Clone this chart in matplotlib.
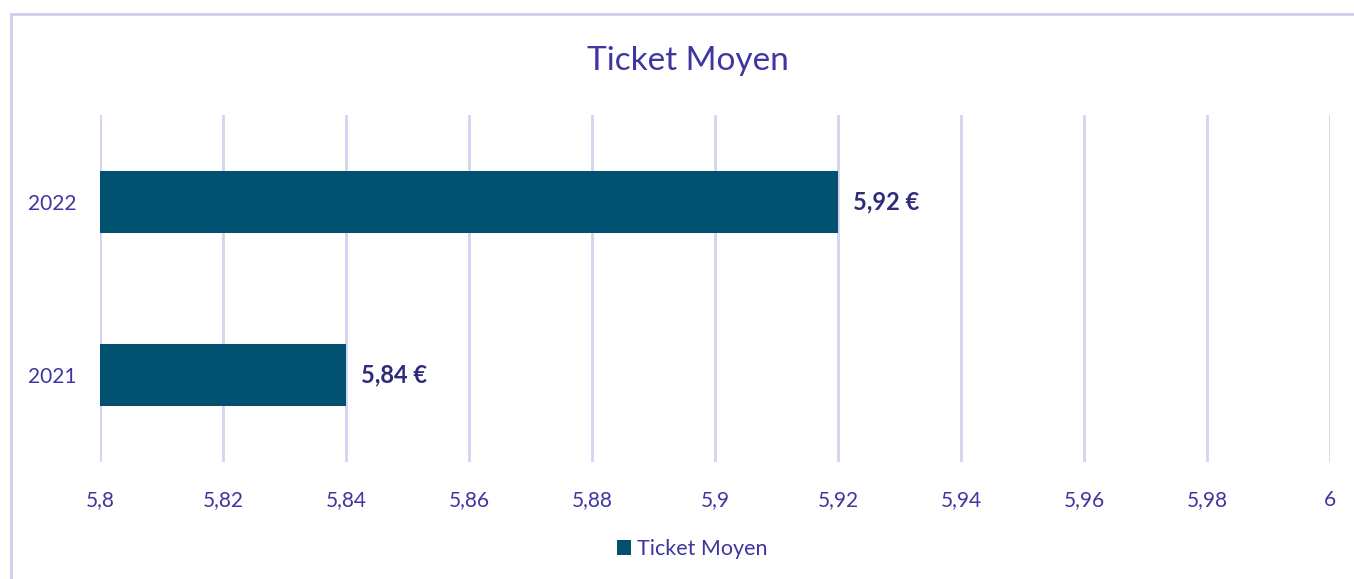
import matplotlib.pyplot as plt
from matplotlib.patches import Rectangle

years = ['2021', '2022']
ticket = [5.84, 5.92]
labels = ['5,84 €', '5,92 €']
xticks = [5.8, 5.82, 5.84, 5.86, 5.88, 5.9, 5.92, 5.94, 5.96, 5.98, 6.0]
xticklabels = ['5,8', '5,82', '5,84', '5,86', '5,88', '5,9', '5,92', '5,94', '5,96', '5,98', '6']

txt = '#3f36a0'
lbl = '#2f2a7a'
bar_col = '#00506f'
grid_col = '#d6d2f0'

plt.rcParams['font.family'] = ['Lato', 'DejaVu Sans']

fig = plt.figure(figsize=(13.54, 5.79), dpi=100)
W, H = 1354, 579
ax = fig.add_axes([100 / W, 1 - 462 / H, 1230 / W, 347 / H])

base = 5.8
ax.barh(years, [v - base for v in ticket], left=base, height=0.36, color=bar_col, zorder=3,
        label='Ticket Moyen')
for i, v in enumerate(ticket):
    ax.text(v + 0.0025, i, labels[i], va='center', ha='left', fontsize=17,
            fontweight='bold', color=lbl)

ax.set_xlim(5.8, 6.0)
ax.set_ylim(-0.5, 1.5)
ax.set_xticks(xticks)
ax.set_xticklabels(xticklabels)
ax.tick_params(axis='both', length=0, labelsize=15, labelcolor=txt)
ax.tick_params(axis='x', pad=20)
ax.tick_params(axis='y', pad=17)
ax.grid(axis='x', color=grid_col, linewidth=2, zorder=0)
for s in ax.spines.values():
    s.set_visible(False)

fig.text(688 / W, 1 - 61 / H, 'Ticket Moyen', ha='center', va='center', fontsize=24, color=txt)

leg = ax.legend(loc='center', bbox_to_anchor=(692 / W, 1 - 549 / H), bbox_transform=fig.transFigure,
                frameon=False, fontsize=15.5, handlelength=0.65, handleheight=0.65, handletextpad=0.3)
for t in leg.get_texts():
    t.set_color(txt)

fig.patches.append(Rectangle((11 / W, -0.01), 1.1, 1 - 14 / H + 0.01, transform=fig.transFigure,
                             fill=False, edgecolor='#d0ccee', linewidth=2))

fig.savefig('out.png', dpi=100)
